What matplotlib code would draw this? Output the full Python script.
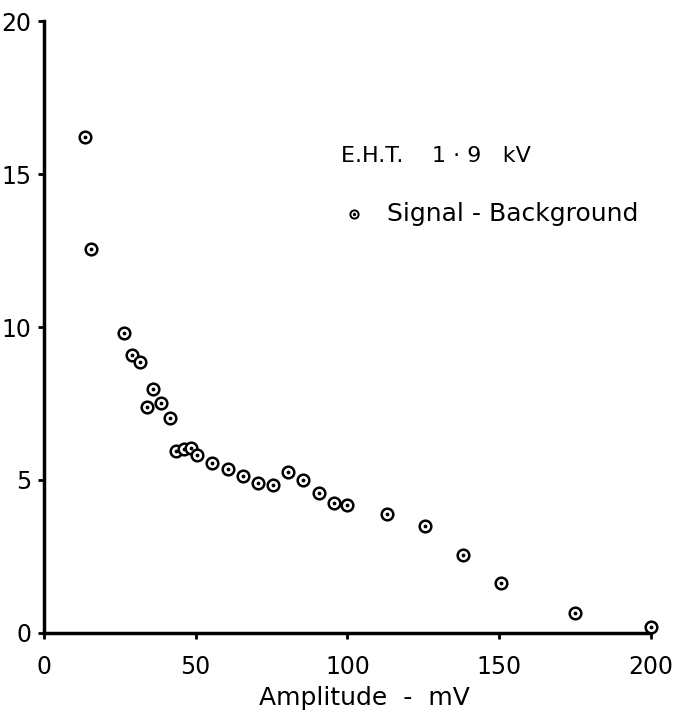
import matplotlib
matplotlib.use("Agg")
import matplotlib.pyplot as plt

amplitude_mv = [13.5, 15.5, 26.5, 29, 31.5, 34, 36, 38.5, 41.5, 43.5, 46, 48.5, 50.5,
                55.5, 60.5, 65.5, 70.5, 75.5, 80.5, 85.5, 90.5, 95.5, 100,
                113, 125.5, 138, 150.5, 175, 200]
signal_minus_bg = [16.2, 12.55, 9.79, 9.08, 8.85, 7.38, 7.96, 7.53, 7.02, 5.95, 6.01, 6.06, 5.82,
                   5.57, 5.35, 5.14, 4.89, 4.84, 5.27, 5.00, 4.58, 4.26, 4.18,
                   3.88, 3.50, 2.55, 1.62, 0.66, 0.21]
x_ticks = [0, 50, 100, 150, 200]
y_ticks = [0, 5, 10, 15, 20]

plt.rcParams['font.family'] = ['DejaVu Sans']

fig = plt.figure(figsize=(6.86, 7.15), dpi=100)
ax = fig.add_axes([0.064, 0.1147, 0.885, 0.8559])

ax.scatter(amplitude_mv, signal_minus_bg, s=70, facecolors='white',
           edgecolors='black', linewidths=1.8, zorder=3, clip_on=False)
ax.scatter(amplitude_mv, signal_minus_bg, s=3, color='black', zorder=4, clip_on=False)

ax.set_xlim(0, 200)
ax.set_ylim(0, 20)
ax.set_xticks(x_ticks)
ax.set_yticks(y_ticks)
ax.set_xticklabels([str(v) for v in x_ticks])
ax.set_yticklabels([str(v) for v in y_ticks])

for s in ['top', 'right']:
    ax.spines[s].set_visible(False)
for s in ['left', 'bottom']:
    ax.spines[s].set_linewidth(2.5)

ax.tick_params(axis='both', direction='out', length=4, width=2, labelsize=17, colors='black')
ax.tick_params(axis='x', pad=12)
ax.tick_params(axis='y', pad=5)

ax.set_xlabel('Amplitude  -  mV', fontsize=18, labelpad=5)
ax.xaxis.label.set_x(0.528)

ax.text(98, 15.6, 'E.H.T.    1 · 9   kV', fontsize=16, va='center', ha='left')
ax.scatter([102], [13.7], s=35, facecolors='white', edgecolors='black', linewidths=1.4, zorder=3)
ax.scatter([102], [13.7], s=2, color='black', zorder=4)
ax.text(113, 13.7, 'Signal - Background', fontsize=18, va='center', ha='left')

fig.savefig('out.png', dpi=100)
